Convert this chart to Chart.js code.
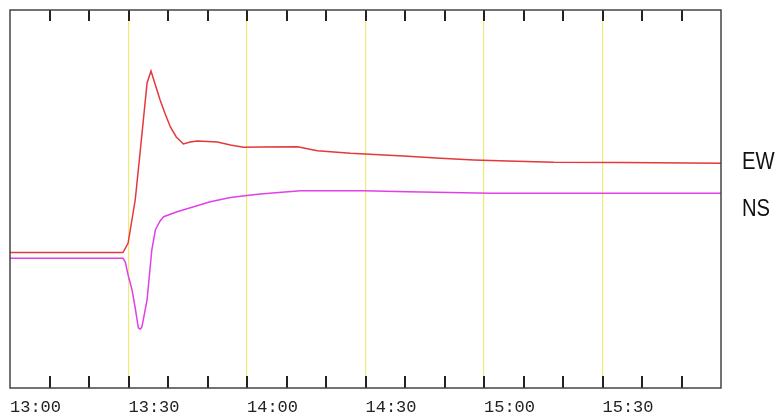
<!DOCTYPE html>
<html>
<head>
<meta charset="utf-8">
<script src="https://cdn.jsdelivr.net/npm/chart.js@4.4.0/dist/chart.umd.min.js"></script>
<style>
  body { margin: 0; background: #fff; }
  #wrap { position: relative; width: 780px; height: 419px; }
  .lbl { position: absolute; left: 742px; font-family: "Liberation Sans", Arial, sans-serif; font-size: 23px; color: #111; line-height: 1; transform: scaleX(0.88); transform-origin: left top; }
</style>
</head>
<body>
<div id="wrap">
  <canvas id="chart"></canvas>
  <div class="lbl" style="top:150px;">EW</div>
  <div class="lbl" style="top:197px;">NS</div>
</div>
<script>
// minutes since 13:00
const ewTimes = [0, 28.6, 29.9, 31.7, 33.0, 34.7, 35.7, 36.8, 38.0, 39.3, 40.6, 42.1, 43.9, 45.6, 47.4, 52.5, 55.8, 59.1, 63.4, 72.8, 77.8, 86.2, 99.6, 109, 117.4, 126, 137.7, 154.6, 180];
const ewValues = [135.5, 135.5, 145, 188, 238, 305, 317, 303, 288, 274, 261, 251, 244, 246, 247, 246, 243, 240.7, 241, 241.3, 237.3, 234.7, 232, 229.7, 228, 227, 225.7, 225.5, 224.7];

const nsTimes = [0, 28.6, 29.2, 29.9, 30.9, 31.7, 32.5, 33.0, 33.4, 34.7, 35.9, 36.8, 38.0, 38.9, 42.3, 46.5, 50.7, 55.8, 60, 63.4, 73.5, 89.5, 100.6, 121.7, 180];
const nsValues = [129.7, 129.7, 126, 113, 98, 80, 60, 59, 61, 88, 138, 158, 167, 171.3, 176.3, 181.3, 186.3, 190.5, 192.5, 194, 197.3, 197.3, 196.3, 194.7, 194.7];

const tickLabels = ['13:00', '13:30', '14:00', '14:30', '15:00', '15:30'];

function toPoints(xs, ys) {
    return xs.map((x, i) => ({ x: x, y: ys[i] }));
}

// khung và vạch chia hướng vào trong
const framePlugin = {
    id: 'frame',
    afterDraw(chart) {
        const ctx = chart.ctx;
        const area = chart.chartArea;
        const xScale = chart.scales.x;
        ctx.save();
        ctx.strokeStyle = '#222';
        ctx.lineWidth = 2;
        xScale.ticks.forEach(t => {
            if (t.value <= xScale.min || t.value >= xScale.max) return;
            const px = Math.round(xScale.getPixelForValue(t.value));
            ctx.beginPath();
            ctx.moveTo(px, area.bottom);
            ctx.lineTo(px, area.bottom - 12);
            ctx.moveTo(px, area.top);
            ctx.lineTo(px, area.top + 11);
            ctx.stroke();
        });
        ctx.strokeStyle = '#444';
        ctx.lineWidth = 1.5;
        ctx.strokeRect(area.left, area.top, area.right - area.left, area.bottom - area.top);
        ctx.restore();
    }
};

new Chart(document.getElementById('chart'), {
    type: 'line',
    data: {
        datasets: [
            {
                label: 'EW',
                data: toPoints(ewTimes, ewValues),
                borderColor: '#e4383c',
                borderWidth: 1.5,
                pointRadius: 0,
                tension: 0
            },
            {
                label: 'NS',
                data: toPoints(nsTimes, nsValues),
                borderColor: '#e040e8',
                borderWidth: 1.5,
                pointRadius: 0,
                tension: 0
            }
        ]
    },
    options: {
        responsive: true,
        maintainAspectRatio: false,
        animation: false,
        layout: { padding: { left: 10, right: 59, top: 10, bottom: 0 } },
        plugins: {
            legend: { display: false },
            tooltip: { enabled: false }
        },
        scales: {
            x: {
                type: 'linear',
                min: 0,
                max: 180,
                border: { display: false },
                grid: {
                    drawTicks: false,
                    lineWidth: 1.2,
                    color: c => (c.tick && c.tick.value % 30 === 0 && c.tick.value > 0 && c.tick.value < 180) ? '#f0ea78' : 'rgba(0,0,0,0)',
                    borderDash: [3, 3]
                },
                ticks: {
                    stepSize: 10,
                    autoSkip: false,
                    maxRotation: 0,
                    align: 'start',
                    padding: 9,
                    color: '#222',
                    font: { family: '"Liberation Mono", monospace', size: 17 },
                    callback: v => (v % 30 === 0 && v < 180) ? tickLabels[v / 30] : ''
                },
                afterFit: s => { s.height = 31; }
            },
            y: {
                display: false,
                min: 0,
                max: 378
            }
        }
    },
    plugins: [framePlugin]
});
</script>
</body>
</html>
